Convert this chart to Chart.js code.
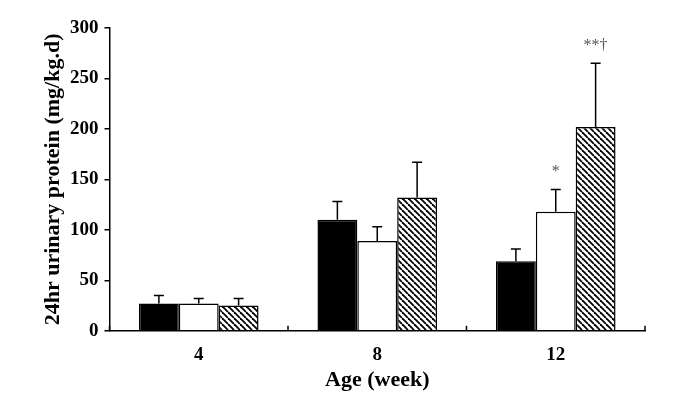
<!DOCTYPE html>
<html lang="en">
<head>
    <title>24hr urinary protein</title>
    <meta charset="utf-8">
    <script src="https://cdn.jsdelivr.net/npm/chart.js"></script>
<style>
        body {
            margin: 0;
            background: white;
        }
        #wrap {
            width: 675px;
            height: 400px;
        }
    </style>
</head>
<body>
    <div id="wrap">
        <canvas id="proteinChart" width="675" height="400"></canvas>
    </div>

    <script>
        const ages = ['4', '8', '12'];

        const blackValues = [27, 110, 69];
        const blackErrors = [8, 18, 12];

        const whiteValues = [27, 89, 118];
        const whiteErrors = [5, 14, 22];

        const hatchValues = [25, 132, 202];
        const hatchErrors = [7, 35, 63];

        const whiteMarks = ['', '', '*'];
        const hatchMarks = ['', '', '**\u2020'];

        const yTicks = [0, 50, 100, 150, 200, 250, 300];

        const serif = "'Liberation Serif', 'Times New Roman', serif";

        // diagonal hatch for the third group
        function makeHatch() {
            var s = 6;
            var c = document.createElement('canvas');
            c.width = s;
            c.height = s;
            var g = c.getContext('2d');
            g.fillStyle = 'white';
            g.fillRect(0, 0, s, s);
            g.strokeStyle = 'black';
            g.lineWidth = 1.8;
            for (var k = -1; k <= 1; k++) {
                g.beginPath();
                g.moveTo(k * s, 0);
                g.lineTo(k * s + s, s);
                g.stroke();
            }
            return g.createPattern(c, 'repeat');
        }

        const errorBars = {
            id: 'errorBars',
            afterDatasetsDraw(chart) {
                var ctx = chart.ctx;
                var y = chart.scales.y;
                ctx.save();
                ctx.strokeStyle = 'black';
                ctx.lineWidth = 1.5;
                chart.data.datasets.forEach(function (ds, i) {
                    var meta = chart.getDatasetMeta(i);
                    meta.data.forEach(function (bar, j) {
                        var top = y.getPixelForValue(ds.data[j] + ds.errors[j]);
                        ctx.beginPath();
                        ctx.moveTo(bar.x, bar.y);
                        ctx.lineTo(bar.x, top);
                        ctx.moveTo(bar.x - 5, top);
                        ctx.lineTo(bar.x + 5, top);
                        ctx.stroke();
                        var mark = ds.marks ? ds.marks[j] : '';
                        if (mark) {
                            ctx.fillStyle = '#555';
                            ctx.font = '16px ' + serif;
                            ctx.textAlign = 'center';
                            ctx.textBaseline = 'bottom';
                            ctx.fillText(mark, bar.x, top - 10);
                        }
                    });
                });
                // inward ticks on the x axis at the category boundaries
                var x = chart.scales.x;
                var half = (x.getPixelForValue(1) - x.getPixelForValue(0)) / 2;
                var base = chart.chartArea.bottom;
                for (var k = 0; k <= ages.length; k++) {
                    var px = x.getPixelForValue(0) - half + k * half * 2;
                    ctx.beginPath();
                    ctx.moveTo(px, base);
                    ctx.lineTo(px, base - 5);
                    ctx.stroke();
                }
                ctx.restore();
            }
        };

        new Chart(document.getElementById('proteinChart'), {
            type: 'bar',
            data: {
                labels: ages,
                datasets: [
                    {
                        data: blackValues,
                        errors: blackErrors,
                        backgroundColor: 'black',
                        borderColor: 'black',
                        borderWidth: 1.5
                    },
                    {
                        data: whiteValues,
                        errors: whiteErrors,
                        marks: whiteMarks,
                        backgroundColor: 'white',
                        borderColor: 'black',
                        borderWidth: 1.5
                    },
                    {
                        data: hatchValues,
                        errors: hatchErrors,
                        marks: hatchMarks,
                        backgroundColor: makeHatch(),
                        borderColor: 'black',
                        borderWidth: 1.5
                    }
                ]
            },
            options: {
                responsive: false,
                animation: false,
                categoryPercentage: 0.67,
                barPercentage: 1.0,
                layout: {
                    padding: { top: 28, right: 30, bottom: 6, left: 42 }
                },
                plugins: {
                    legend: { display: false },
                    tooltip: { enabled: false }
                },
                scales: {
                    x: {
                        grid: { display: false },
                        border: { color: 'black', width: 1.5 },
                        ticks: {
                            color: 'black',
                            padding: 5,
                            font: { family: serif, size: 19, weight: 'bold' }
                        },
                        title: {
                            display: true,
                            text: 'Age (week)',
                            color: 'black',
                            padding: { top: -4, bottom: 0 },
                            font: { family: serif, size: 22, weight: 'bold' }
                        }
                    },
                    y: {
                        min: 0,
                        max: 300,
                        afterBuildTicks: function (axis) {
                            axis.ticks = yTicks.map(function (v) { return { value: v }; });
                        },
                        grid: {
                            drawOnChartArea: false,
                            tickLength: 5,
                            color: 'black',
                            lineWidth: 1.5
                        },
                        border: { color: 'black', width: 1.5 },
                        ticks: {
                            color: 'black',
                            padding: 6,
                            font: { family: serif, size: 19, weight: 'bold' }
                        },
                        title: {
                            display: true,
                            text: '24hr urinary protein (mg/kg.d)',
                            color: 'black',
                            padding: { top: 0, bottom: 0 },
                            font: { family: serif, size: 22, weight: 'bold', lineHeight: 1.0 }
                        }
                    }
                }
            },
            plugins: [errorBars]
        });
    </script>
</body>
</html>
